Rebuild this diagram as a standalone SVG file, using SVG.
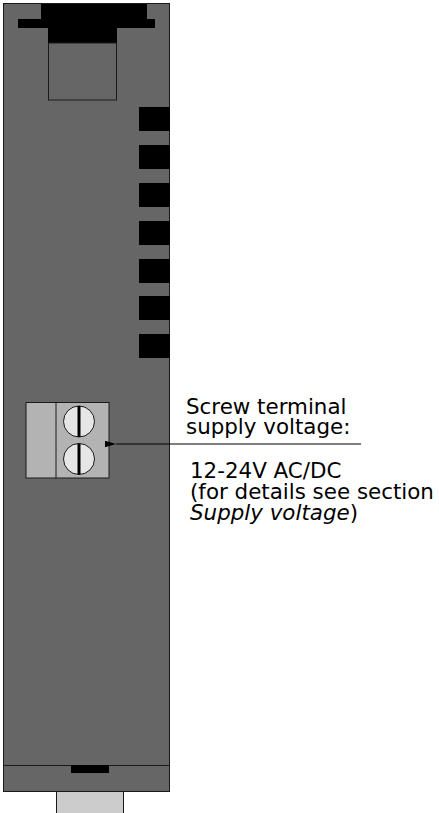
<svg xmlns="http://www.w3.org/2000/svg" width="439" height="813" viewBox="0 0 439 813">
<style>
.ln{stroke:#1a1a1a;stroke-width:1}
.blk{fill:#000}
.led{fill:#000}
.txt{font-family:"DejaVu Sans",Verdana,sans-serif;font-size:21.4px;fill:#000}
</style>
<defs>
<marker id="ah" viewBox="0 0 10 6" refX="0" refY="3" markerWidth="11" markerHeight="7" markerUnits="userSpaceOnUse" orient="auto-start-reverse">
<path d="M10,0 L0,3 L10,6 z" fill="#000"/>
</marker>
</defs>
<rect width="439" height="813" fill="#fff"/>
<g id="housing">
<rect x="3.5" y="3.5" width="166" height="788" fill="#666" class="ln"/>
<line x1="3.5" y1="765.5" x2="169.5" y2="765.5" class="ln"/>
<rect x="71" y="765" width="38" height="8" class="blk"/>
<rect x="56.5" y="791.5" width="67" height="24" fill="#ccc" class="ln"/>
</g>
<g id="top-connector">
<rect x="41" y="4" width="106" height="16" class="blk"/>
<rect x="18" y="19" width="137" height="9" class="blk"/>
<rect x="48" y="28" width="69" height="15" class="blk"/>
<rect x="48.5" y="43" width="68" height="57" fill="#666" class="ln"/>
</g>
<g id="leds">
<rect x="139" y="107" width="31" height="24" class="led"/>
<rect x="139" y="145" width="31" height="24" class="led"/>
<rect x="139" y="183" width="31" height="24" class="led"/>
<rect x="139" y="221" width="31" height="24" class="led"/>
<rect x="139" y="259" width="31" height="24" class="led"/>
<rect x="139" y="296" width="31" height="24" class="led"/>
<rect x="139" y="334" width="31" height="24" class="led"/>
</g>
<g id="screw-terminal">
<rect x="26" y="402.5" width="83" height="75.5" fill="#b3b3b3" class="ln"/>
<line x1="56" y1="402.5" x2="56" y2="478" class="ln"/>
<circle cx="79" cy="421.5" r="15.5" fill="#e6e6e6" class="ln"/>
<circle cx="79" cy="459" r="15.5" fill="#e6e6e6" class="ln"/>
<rect x="77.5" y="406" width="3" height="31" class="blk"/>
<rect x="77.5" y="443.5" width="3" height="31" class="blk"/>
</g>
<g id="connectors">
<line x1="361" y1="444" x2="116" y2="444" stroke="#000" stroke-width="1" marker-end="url(#ah)"/>
</g>
<g id="label">
<text class="txt" x="186" y="414">Screw terminal</text>
<text class="txt" x="186" y="434">supply voltage:</text>
<text class="txt" x="190" y="478">12-24V AC/DC</text>
<text class="txt" x="190" y="499">(for details see section</text>
<text class="txt" x="190" y="520"><tspan font-style="italic">Supply voltage</tspan>)</text>
</g>
</svg>
